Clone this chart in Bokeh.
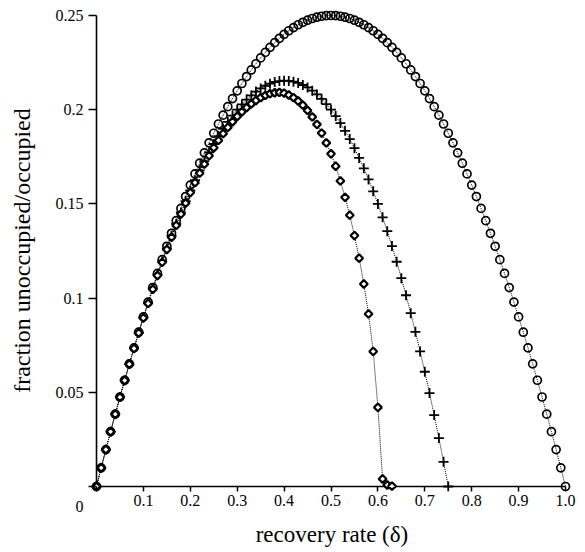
import math
from bokeh.plotting import figure
from bokeh.models import Range1d, FixedTicker
from bokeh.embed import file_html
from bokeh.resources import INLINE

# ---- data ----
delta = [0.00, 0.01, 0.02, 0.03, 0.04, 0.05, 0.06, 0.07, 0.08, 0.09,
         0.10, 0.11, 0.12, 0.13, 0.14, 0.15, 0.16, 0.17, 0.18, 0.19,
         0.20, 0.21, 0.22, 0.23, 0.24, 0.25, 0.26, 0.27, 0.28, 0.29,
         0.30, 0.31, 0.32, 0.33, 0.34, 0.35, 0.36, 0.37, 0.38, 0.39,
         0.40, 0.41, 0.42, 0.43, 0.44, 0.45, 0.46, 0.47, 0.48, 0.49,
         0.50, 0.51, 0.52, 0.53, 0.54, 0.55, 0.56, 0.57, 0.58, 0.59,
         0.60, 0.61, 0.62, 0.63, 0.64, 0.65, 0.66, 0.67, 0.68, 0.69,
         0.70, 0.71, 0.72, 0.73, 0.74, 0.75, 0.76, 0.77, 0.78, 0.79,
         0.80, 0.81, 0.82, 0.83, 0.84, 0.85, 0.86, 0.87, 0.88, 0.89,
         0.90, 0.91, 0.92, 0.93, 0.94, 0.95, 0.96, 0.97, 0.98, 0.99,
         1.00]

# open circles
circles = [0.0, 0.0099, 0.0196, 0.0291, 0.0384, 0.0475, 0.0564, 0.0651, 0.0736, 0.0819,
           0.0900, 0.0979, 0.1056, 0.1131, 0.1204, 0.1275, 0.1344, 0.1411, 0.1476, 0.1539,
           0.1600, 0.1659, 0.1716, 0.1771, 0.1824, 0.1875, 0.1924, 0.1971, 0.2016, 0.2059,
           0.2100, 0.2139, 0.2176, 0.2211, 0.2244, 0.2275, 0.2304, 0.2331, 0.2356, 0.2379,
           0.2400, 0.2419, 0.2436, 0.2451, 0.2464, 0.2475, 0.2484, 0.2491, 0.2496, 0.2499,
           0.2500, 0.2499, 0.2496, 0.2491, 0.2484, 0.2475, 0.2464, 0.2451, 0.2436, 0.2419,
           0.2400, 0.2379, 0.2356, 0.2331, 0.2304, 0.2275, 0.2244, 0.2211, 0.2176, 0.2139,
           0.2100, 0.2059, 0.2016, 0.1971, 0.1924, 0.1875, 0.1824, 0.1771, 0.1716, 0.1659,
           0.1600, 0.1539, 0.1476, 0.1411, 0.1344, 0.1275, 0.1204, 0.1131, 0.1056, 0.0979,
           0.0900, 0.0819, 0.0736, 0.0651, 0.0564, 0.0475, 0.0384, 0.0291, 0.0196, 0.0099,
           0.0]

# crosses
crosses = [0.0, 0.0099, 0.0196, 0.0291, 0.0384, 0.0475, 0.0563, 0.0650, 0.0734, 0.0816,
           0.0897, 0.0974, 0.1050, 0.1123, 0.1194, 0.1263, 0.1330, 0.1394, 0.1455, 0.1515,
           0.1571, 0.1626, 0.1678, 0.1727, 0.1774, 0.1818, 0.1860, 0.1899, 0.1935, 0.1969,
           0.2000, 0.2028, 0.2054, 0.2076, 0.2096, 0.2113, 0.2127, 0.2138, 0.2147, 0.2152,
           0.2154, 0.2153, 0.2149, 0.2142, 0.2131, 0.2118, 0.2101, 0.2081, 0.2057, 0.2030,
           0.2000, 0.1966, 0.1929, 0.1888, 0.1844, 0.1796, 0.1744, 0.1689, 0.1630, 0.1567,
           0.1500, 0.1429, 0.1355, 0.1276, 0.1193, 0.1106, 0.1015, 0.0920, 0.0821, 0.0717,
           0.0609, 0.0496, 0.0379, 0.0257, 0.0131, 0.0]

# diamonds
diamonds = [0.0, 0.0099, 0.0196, 0.0291, 0.0384, 0.0474, 0.0563, 0.0649, 0.0733, 0.0815,
            0.0895, 0.0972, 0.1047, 0.1120, 0.1190, 0.1258, 0.1323, 0.1386, 0.1446, 0.1504,
            0.1560, 0.1613, 0.1663, 0.1711, 0.1756, 0.1798, 0.1837, 0.1873, 0.1906, 0.1936,
            0.1964, 0.1989, 0.2011, 0.2031, 0.2049, 0.2064, 0.2076, 0.2085, 0.2090, 0.2092,
            0.2088, 0.2078, 0.2064, 0.2046, 0.2024, 0.1996, 0.1962, 0.1922, 0.1876, 0.1824,
            0.1766, 0.1700, 0.1622, 0.1535, 0.1440, 0.1332, 0.1212, 0.1075, 0.0916, 0.0717,
            0.0420, 0.0040, 0.0008, 0.0002]

x_ticks = [0.0, 0.1, 0.2, 0.3, 0.4, 0.5, 0.6, 0.7, 0.8, 0.9, 1.0]
x_tick_labels = ["", "0.1", "0.2", "0.3", "0.4", "0.5", "0.6", "0.7", "0.8", "0.9", "1.0"]
y_ticks = [0.0, 0.05, 0.1, 0.15, 0.2, 0.25]
y_tick_labels = ["\n\n0", "0.05", "0.1", "0.15", "0.2", "0.25"]

x_title = "recovery rate (δ)"
y_title = "fraction unoccupied/occupied"

SERIF = "Liberation Serif"

p = figure(width=585, height=552, output_backend="svg", toolbar_location=None,
           x_range=Range1d(-0.017058, 1.021322), y_range=Range1d(-0.002654, 0.253185),
           min_border_left=88, min_border_right=10, min_border_top=9, min_border_bottom=61)
p.outline_line_color = None
p.xgrid.visible = False
p.ygrid.visible = False
p.background_fill_color = "white"
p.border_fill_color = "white"

xa = p.xaxis[0]
ya = p.yaxis[0]
xa.bounds = (x_ticks[0], x_ticks[-1])
ya.bounds = (y_ticks[0], y_ticks[-1])
xa.ticker = FixedTicker(ticks=x_ticks)
ya.ticker = FixedTicker(ticks=y_ticks)
xa.major_label_overrides = dict(zip(x_ticks, x_tick_labels))
ya.major_label_overrides = dict(zip(y_ticks, y_tick_labels))
for ax in (xa, ya):
    ax.axis_line_color = None
    ax.major_tick_line_color = "black"
    ax.major_tick_line_width = 1.5
    ax.minor_tick_line_color = None
    ax.major_tick_out = 0
    ax.major_label_text_font = SERIF
    ax.major_label_text_font_size = "16px"
    ax.major_label_text_color = "black"
    ax.axis_label_text_font = SERIF
    ax.axis_label_text_font_style = "normal"
    ax.axis_label_text_color = "black"
xa.major_tick_in = 5
xa.major_label_standoff = 3
xa.axis_label = x_title
xa.axis_label_text_font_size = "23px"
xa.axis_label_standoff = 13
ya.major_tick_in = 8
ya.major_label_standoff = 5
ya.axis_label = y_title
ya.axis_label_text_font_size = "24px"
ya.axis_label_standoff = 18

# axis lines through the origin
p.segment(x0=[x_ticks[0]], y0=[y_ticks[0]], x1=[x_ticks[-1]], y1=[y_ticks[0]],
          line_color="black", line_width=1.6)
p.segment(x0=[x_ticks[0]], y0=[y_ticks[0]], x1=[x_ticks[0]], y1=[y_ticks[-1]],
          line_color="black", line_width=1.6)

# circles series
p.line(delta[:len(circles)], circles, line_color="black", line_width=1, line_dash="1 1")
p.scatter(delta[:len(circles)], circles, marker="circle", size=8,
          line_color="black", line_width=1.7, fill_color=None)
# crosses series
p.line(delta[:len(crosses)], crosses, line_color="black", line_width=1, line_dash="1 1")
p.scatter(delta[:len(crosses)], crosses, marker="cross", size=10,
          line_color="black", line_width=1.8)
# diamonds series
p.line(delta[:len(diamonds)], diamonds, line_color="black", line_width=1, line_dash="1 1")
p.scatter(delta[:len(diamonds)], diamonds, marker="square", size=5.5, angle=math.pi / 4,
          line_color="black", line_width=2.2, fill_color="white")

open("out.html", "w").write(file_html(p, INLINE))
